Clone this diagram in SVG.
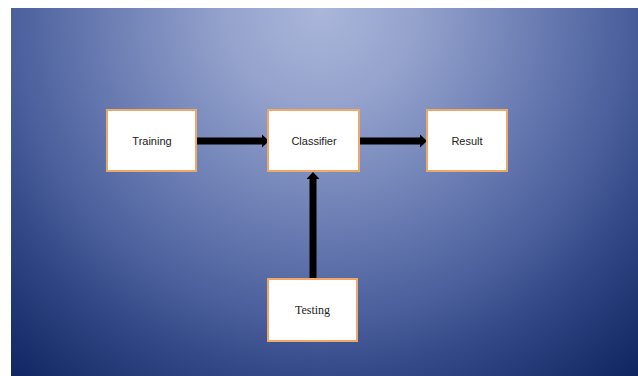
<svg xmlns="http://www.w3.org/2000/svg" width="638" height="376" viewBox="0 0 638 376">
  <defs>
    <radialGradient id="bg" gradientUnits="userSpaceOnUse" cx="320" cy="10" r="490">
      <stop offset="0" stop-color="#aab6da"/>
      <stop offset="0.19" stop-color="#95a3cd"/>
      <stop offset="0.44" stop-color="#6b7db3"/>
      <stop offset="0.63" stop-color="#4a5f9c"/>
      <stop offset="0.74" stop-color="#354a88"/>
      <stop offset="1" stop-color="#0c2360"/>
    </radialGradient>
    <style>
      .box { fill: #ffffff; stroke: #f0a868; stroke-width: 2; }
      .sans { font-family: "Liberation Sans", Arial, sans-serif; font-size: 11px; fill: #222222; text-anchor: middle; }
      .serif { font-family: "Liberation Serif", "Times New Roman", serif; font-size: 12px; fill: #222222; text-anchor: middle; }
      .arrow { fill: #000000; }
    </style>
  </defs>
  <rect x="0" y="0" width="638" height="376" fill="#ffffff"/>
  <rect x="11" y="8" width="627" height="368" fill="url(#bg)"/>

  <g id="connectors">
    <!-- Training to Classifier -->
    <polygon class="arrow" points="196,137.5 262,137.5 262,134.5 269,141 262,147.5 262,144.5 196,144.5"/>
    <!-- Classifier to Result -->
    <polygon class="arrow" points="360,137.5 420,137.5 420,134.5 427,141 420,147.5 420,144.5 360,144.5"/>
    <!-- Testing to Classifier -->
    <polygon class="arrow" points="309.5,278 309.5,179 306.5,179 313,172 319.5,179 316.5,179 316.5,278"/>
  </g>

  <g id="training">
    <rect class="box" x="107" y="110" width="89" height="61"/>
    <text class="sans" x="152" y="145">Training</text>
  </g>
  <g id="classifier">
    <rect class="box" x="268" y="110" width="91" height="61"/>
    <text class="sans" x="314" y="145">Classifier</text>
  </g>
  <g id="result">
    <rect class="box" x="427" y="110" width="80" height="61"/>
    <text class="sans" x="467" y="145">Result</text>
  </g>
  <g id="testing">
    <rect class="box" x="268" y="279" width="89" height="62"/>
    <text class="serif" x="312.5" y="314">Testing</text>
  </g>
</svg>
